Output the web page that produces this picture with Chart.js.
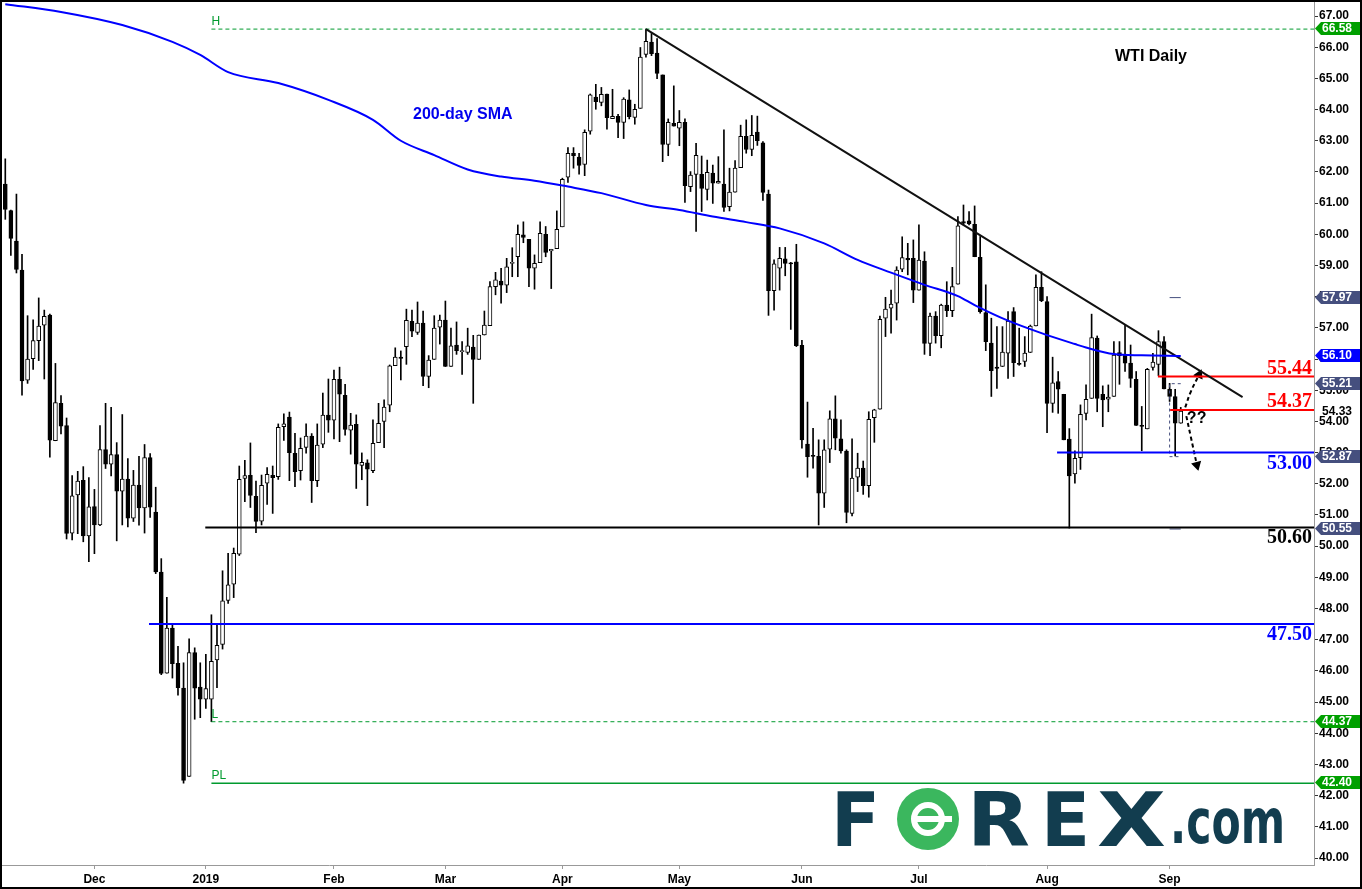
<!DOCTYPE html>
<html>
<head>
<meta charset="utf-8">
<title>WTI Daily</title>
<script src="https://cdn.jsdelivr.net/npm/chart.js@4.4.0/dist/chart.umd.min.js"></script>
<style>
  html, body { margin: 0; padding: 0; background: #fff; }
  canvas { display: block; }
</style>
</head>
<body>
<canvas id="chart" width="1362" height="889"></canvas>
<script>
// WTI daily candles, mid Nov 2018 to 3 Sep 2019
const opens = [
  61.61, 60.76, 59.78, 58.85, 55.32, 56.01, 56.59, 57.09, 57.41, 53.38,
  54.58, 53.87, 50.42, 51.64, 52.11, 50.33, 51.27, 50.68, 53.10, 52.63,
  52.94, 51.76, 52.15, 50.90, 51.96, 51.23, 52.84, 51.09, 49.17, 45.93,
  47.37, 46.24, 45.45, 42.62, 46.59, 45.48, 45.09, 45.09, 46.35, 46.85,
  48.26, 48.78, 49.74, 52.17, 52.27, 51.60, 50.80, 52.02, 52.27, 52.23,
  53.83, 54.14, 52.98, 52.42, 53.17, 53.53, 52.10, 53.27, 54.20, 54.04,
  55.35, 54.84, 53.72, 53.91, 52.59, 52.67, 52.42, 53.32, 54.00, 54.52,
  55.79, 56.06, 56.40, 57.21, 56.85, 57.15, 55.44, 55.99, 57.02, 57.25,
  55.76, 56.45, 56.24, 56.21, 56.38, 55.99, 56.77, 57.07, 58.32, 58.50,
  58.37, 59.07, 59.28, 59.98, 59.84, 58.91, 59.09, 60.00, 59.47, 59.54,
  60.24, 61.83, 62.60, 62.48, 62.24, 63.31, 64.40, 64.23, 64.50, 63.71,
  63.78, 63.59, 64.31, 63.75, 64.04, 65.77, 66.16, 65.81, 65.11, 62.88,
  63.56, 63.40, 63.59, 61.53, 61.92, 61.92, 61.44, 61.96, 61.64, 61.61,
  60.89, 61.35, 62.14, 63.14, 62.72, 63.28, 62.93, 61.29, 58.19, 58.91,
  59.21, 59.07, 59.12, 56.44, 53.27, 52.90, 52.88, 51.70, 53.11, 54.08,
  53.44, 53.05, 51.05, 52.21, 52.50, 51.94, 54.12, 54.39, 57.31, 57.63,
  57.79, 58.88, 59.23, 59.23, 58.21, 59.14, 56.50, 57.38, 56.75, 57.73,
  57.55, 58.40, 60.41, 60.43, 60.32, 59.26, 57.49, 56.51, 55.74, 55.76,
  56.19, 57.52, 55.86, 55.92, 56.21, 57.06, 58.30, 57.84, 54.58, 55.28,
  54.87, 53.43, 52.32, 52.84, 54.26, 54.74, 56.67, 54.87, 54.71, 54.80,
  56.21, 56.13, 55.87, 55.35, 53.85, 53.76, 55.73, 55.83, 56.56, 55.03,
  54.80, 53.94
];
const highs = [
  62.42, 60.78, 61.29, 59.36, 57.39, 57.26, 57.96, 57.57, 57.44, 55.86,
  54.83, 54.11, 52.26, 52.40, 52.55, 52.20, 51.82, 53.87, 54.58, 54.45,
  53.32, 54.22, 52.81, 52.43, 52.88, 53.26, 52.97, 51.89, 49.60, 48.36,
  47.52, 46.79, 46.26, 47.03, 46.74, 46.26, 46.53, 47.80, 47.52, 49.21,
  49.77, 49.94, 52.57, 52.75, 53.31, 52.09, 52.28, 52.52, 52.57, 53.92,
  54.24, 54.30, 53.62, 53.47, 53.92, 53.61, 53.92, 54.91, 55.36, 55.65,
  55.74, 55.19, 54.26, 54.21, 52.99, 52.77, 54.05, 54.58, 54.69, 55.81,
  56.36, 56.26, 57.60, 57.57, 57.83, 57.54, 56.11, 57.39, 57.41, 57.86,
  56.99, 57.19, 56.56, 56.99, 56.76, 56.77, 57.54, 58.48, 58.78, 58.91,
  59.23, 59.57, 60.30, 60.40, 59.84, 59.34, 60.40, 60.25, 59.52, 60.75,
  61.80, 62.78, 62.78, 62.60, 63.35, 64.50, 64.81, 64.71, 64.50, 64.65,
  63.85, 64.38, 64.63, 64.17, 65.99, 66.58, 66.44, 66.28, 65.11, 63.70,
  64.76, 63.97, 63.70, 62.01, 62.92, 62.51, 62.38, 62.22, 62.49, 63.35,
  62.12, 62.36, 63.50, 63.67, 63.81, 63.79, 62.97, 61.42, 59.18, 59.58,
  59.58, 59.10, 59.68, 56.60, 54.62, 53.78, 53.41, 53.41, 54.34, 54.82,
  54.05, 53.09, 53.44, 52.98, 52.73, 54.31, 54.39, 57.38, 57.98, 58.21,
  58.96, 59.92, 59.71, 59.82, 60.30, 59.44, 57.47, 57.52, 57.76, 58.48,
  58.94, 60.57, 60.94, 60.73, 60.91, 59.93, 58.38, 57.31, 57.04, 57.04,
  57.52, 57.65, 56.99, 56.72, 57.09, 58.70, 58.80, 58.00, 56.06, 55.60,
  54.87, 53.77, 53.06, 54.53, 55.17, 57.44, 56.74, 55.14, 55.17, 56.56,
  56.56, 57.09, 56.45, 55.60, 54.48, 55.70, 56.18, 56.91, 56.72, 55.22,
  55.03, 54.45
];
const lows = [
  60.48, 59.32, 58.76, 54.84, 55.22, 55.67, 55.95, 55.36, 52.85, 53.38,
  53.60, 50.23, 50.20, 50.40, 50.14, 49.50, 49.76, 50.66, 52.49, 52.25,
  50.17, 50.68, 50.62, 50.79, 50.67, 50.42, 50.92, 49.12, 45.88, 45.93,
  45.77, 45.22, 42.40, 42.62, 44.45, 44.50, 44.80, 44.37, 45.46, 46.70,
  48.16, 48.35, 49.70, 51.43, 51.24, 50.43, 50.68, 51.34, 51.05, 52.14,
  53.39, 52.10, 51.91, 52.12, 52.98, 51.40, 51.91, 53.16, 53.65, 53.44,
  53.35, 53.56, 52.95, 51.85, 52.13, 51.30, 52.36, 53.32, 53.16, 54.31,
  55.79, 55.33, 55.83, 56.72, 56.79, 55.15, 55.08, 55.99, 56.48, 55.76,
  55.76, 56.15, 55.51, 56.15, 54.58, 55.99, 56.77, 57.07, 58.06, 57.79,
  58.13, 58.64, 58.64, 59.73, 58.32, 58.24, 59.09, 59.28, 58.26, 59.54,
  60.24, 61.66, 62.12, 61.93, 61.88, 63.21, 64.01, 64.12, 63.37, 63.71,
  63.10, 63.07, 63.70, 63.53, 64.04, 65.68, 65.73, 64.99, 62.33, 62.52,
  63.47, 62.84, 61.02, 61.37, 60.09, 60.73, 61.10, 60.99, 61.64, 60.73,
  60.75, 61.35, 62.14, 62.60, 62.52, 62.85, 61.09, 57.40, 57.57, 58.21,
  58.67, 56.95, 56.40, 53.14, 52.21, 52.50, 50.68, 51.24, 52.68, 53.09,
  52.98, 50.75, 50.97, 51.75, 51.66, 51.57, 53.33, 54.39, 56.72, 56.83,
  57.25, 58.80, 58.70, 57.81, 58.21, 56.15, 56.11, 56.51, 56.36, 57.36,
  57.36, 58.40, 60.30, 60.30, 59.28, 57.47, 56.27, 54.80, 55.06, 55.76,
  55.38, 55.44, 55.80, 55.76, 56.21, 57.06, 57.84, 53.64, 54.29, 54.26,
  53.41, 50.58, 52.02, 52.46, 54.05, 54.74, 54.31, 53.83, 54.31, 54.80,
  55.19, 55.60, 55.09, 53.87, 53.06, 53.76, 55.64, 55.47, 55.04, 54.64,
  52.89, 53.94
];
const closes = [
  60.80, 59.87, 58.87, 55.30, 56.00, 56.59, 57.06, 57.37, 53.40, 54.60,
  53.85, 50.41, 51.61, 52.09, 50.33, 51.26, 50.68, 53.10, 52.63, 52.94,
  51.76, 52.15, 50.90, 51.96, 51.23, 52.84, 51.25, 49.17, 45.92, 47.37,
  46.23, 45.46, 42.49, 46.59, 45.45, 45.09, 45.43, 46.31, 46.82, 48.25,
  48.76, 49.77, 52.14, 52.26, 51.63, 50.79, 51.95, 52.30, 52.20, 53.81,
  53.92, 53.00, 52.39, 53.14, 53.53, 52.10, 53.24, 54.20, 54.04, 55.35,
  54.87, 53.74, 53.88, 52.63, 52.69, 52.47, 53.30, 53.94, 54.46, 55.78,
  56.06, 56.02, 57.24, 56.89, 57.15, 55.44, 55.97, 56.99, 57.25, 55.76,
  56.42, 56.27, 56.24, 56.42, 55.99, 56.77, 57.09, 58.32, 58.54, 58.37,
  58.96, 59.07, 60.00, 59.90, 58.91, 59.07, 60.03, 59.42, 59.52, 60.16,
  61.76, 62.60, 62.52, 62.21, 63.27, 64.47, 64.25, 64.49, 63.74, 63.78,
  63.59, 64.34, 63.77, 64.01, 65.68, 66.19, 65.79, 65.16, 62.88, 63.59,
  63.47, 63.59, 61.56, 61.90, 62.53, 61.47, 61.99, 61.64, 61.70, 60.86,
  61.35, 62.12, 63.14, 62.72, 63.17, 63.00, 61.34, 58.19, 59.05, 59.23,
  59.07, 59.05, 56.43, 53.41, 52.87, 52.88, 51.70, 53.09, 54.08, 53.46,
  53.05, 51.08, 52.18, 52.50, 51.94, 54.07, 54.37, 57.27, 57.60, 57.76,
  58.85, 59.25, 59.18, 58.21, 59.17, 56.50, 57.38, 56.75, 57.73, 57.55,
  58.32, 60.27, 60.36, 60.33, 59.28, 57.52, 56.56, 55.63, 55.70, 56.22,
  57.22, 55.88, 55.83, 56.19, 57.06, 58.30, 57.87, 54.58, 55.24, 55.03,
  53.41, 52.25, 52.82, 54.23, 54.71, 56.69, 54.74, 54.69, 54.78, 56.13,
  56.11, 55.87, 55.38, 53.87, 53.84, 55.67, 55.90, 56.56, 55.04, 54.80,
  53.94, 54.33
];

// x axis: bar index where each month starts
const monthLabels = ['Dec', '2019', 'Feb', 'Mar', 'Apr', 'May', 'Jun', 'Jul', 'Aug', 'Sep'];
const monthStarts = [16, 36, 59, 79, 100, 121, 143, 164, 187, 209];
const priceTicks = [40, 41, 42, 43, 44, 45, 46, 47, 48, 49, 50, 51, 52, 53,
  54, 55, 56, 57, 58, 59, 60, 61, 62, 63, 64, 65, 66, 67];

// 200-day SMA, sampled along the blue line
const smaIdx = [0, 10, 21, 30, 35, 40, 49, 58, 66, 71, 77, 83, 89, 95, 101, 107,
  115, 121, 127, 133, 139, 147, 153, 159, 165, 171, 174, 180, 186, 192, 194, 199, 204, 211];
const smaVals = [67.38, 67.13, 66.71, 66.17, 65.75, 65.20, 64.85, 64.31, 63.67, 63.00,
  62.54, 62.08, 61.85, 61.72, 61.53, 61.32, 60.94, 60.78, 60.57, 60.39, 60.19, 59.71,
  59.18, 58.77, 58.38, 58.02, 57.73, 57.23, 56.83, 56.48, 56.37, 56.16, 56.12, 56.10];

// drawn levels
const levelValues = [50.60, 47.50, 53.00, 55.44, 54.37];
const levelStarts = [35.9, 25.8, 188.8, 206.9, 209.1];
const pivotNames = ['H', 'L', 'PL'];
const pivotValues = [66.58, 44.37, 42.40];
const pivotStart = 37;

// falling trend line from the April high
const trendX = [115, 222.1];
const trendY = [66.58, 54.78];

// the two dashed "??" arrows
const upArrowX = [211.8, 212.8, 214.3];
const upArrowY = [54.45, 54.95, 55.50];
const downArrowX = [212.0, 212.8, 213.9];
const downArrowY = [54.17, 53.51, 52.60];

// right axis price tags
const tagValues = [66.58, 57.97, 56.10, 55.21, 52.87, 50.55, 44.37, 42.40];
const lastPrice = closes[closes.length - 1];

const X_MIN = -0.77, X_MAX = 234.92;
const GREEN = '#009a2e';
const SLATE = '#454f7e';
const tagColors = ['#00a000', SLATE, '#0000ff', SLATE, SLATE, SLATE, '#00a000', '#00a000'];
const levelColors = ['#000000', '#0000ff', '#0000ff', '#ff0000', '#ff0000'];
const levelBelow = [true, true, true, false, false];

function pts(xs, ys) {
    return xs.map((x, k) => ({ x: x, y: ys[k] }));
}

function hLine(v, from, color, width, dash) {
    return {
        type: 'line',
        data: [{ x: from, y: v }, { x: X_MAX, y: v }],
        borderColor: color,
        borderWidth: width,
        borderDash: dash || [],
        pointRadius: 0,
        order: 0
    };
}

// text squeezed/stretched to a given width (logo letters)
function fitText(ctx, text, left, right, baseline) {
    const w = ctx.measureText(text).width;
    ctx.save();
    ctx.translate(left, baseline);
    ctx.scale((right - left) / w, 1);
    ctx.fillText(text, 0, 0);
    ctx.restore();
}

function drawLogo(ctx) {
    ctx.save();
    ctx.fillStyle = '#123d4f';
    ctx.textBaseline = 'alphabetic';
    ctx.font = 'bold 74px "DejaVu Sans", sans-serif';
    fitText(ctx, 'F', 831, 880, 846);
    fitText(ctx, 'R', 967, 1030, 846);
    fitText(ctx, 'E', 1041, 1090, 846);
    fitText(ctx, 'X', 1097, 1166, 846);
    ctx.font = 'bold 62px "DejaVu Sans", sans-serif';
    fitText(ctx, '.com', 1170, 1285, 843);
    // the green coin used as the O
    ctx.fillStyle = '#3bb75e';
    ctx.beginPath();
    ctx.arc(928, 819, 31, 0, Math.PI * 2);
    ctx.fill();
    ctx.strokeStyle = '#ffffff';
    ctx.lineWidth = 6;
    ctx.beginPath();
    ctx.arc(928, 819, 14, 0, Math.PI * 2);
    ctx.stroke();
    ctx.fillStyle = '#ffffff';
    ctx.fillRect(912, 816, 40, 6);
    ctx.restore();
}

const overlay = {
    id: 'overlay',
    beforeDatasetsDraw(chart) {
        drawLogo(chart.ctx);
    },
    afterDatasetsDraw(chart) {
        const ctx = chart.ctx;
        const xs = chart.scales.x, ys = chart.scales.y;
        const right = chart.chartArea.right;
        ctx.save();
        // level captions
        ctx.font = 'bold 20px "Liberation Serif", "Times New Roman", serif';
        ctx.textAlign = 'right';
        ctx.textBaseline = 'alphabetic';
        levelValues.forEach((v, k) => {
            const y = ys.getPixelForValue(v);
            ctx.fillStyle = levelColors[k];
            ctx.fillText(v.toFixed(2), right - 2, levelBelow[k] ? y + 16 : y - 3);
        });
        // H / L / PL
        ctx.textAlign = 'left';
        ctx.font = '12px Arial, "Liberation Sans", sans-serif';
        ctx.fillStyle = GREEN;
        pivotValues.forEach((v, k) => {
            ctx.fillText(pivotNames[k], xs.getPixelForValue(pivotStart), ys.getPixelForValue(v) - 4);
        });
        // captions
        ctx.textBaseline = 'middle';
        ctx.font = 'bold 16px Arial, "Liberation Sans", sans-serif';
        ctx.fillStyle = '#0000ee';
        ctx.fillText('200-day SMA', xs.getPixelForValue(73.2), ys.getPixelForValue(63.83));
        ctx.fillStyle = '#000';
        ctx.fillText('WTI Daily', xs.getPixelForValue(199.2), ys.getPixelForValue(65.69));
        ctx.fillText('??', xs.getPixelForValue(212.1), ys.getPixelForValue(54.08));
        ctx.restore();
    },
    afterDraw(chart) {
        const ctx = chart.ctx;
        const ys = chart.scales.y;
        const x0 = chart.chartArea.right + 1;
        const w = chart.width;
        ctx.save();
        ctx.font = 'bold 12px Arial, "Liberation Sans", sans-serif';
        ctx.textBaseline = 'middle';
        ctx.textAlign = 'left';
        tagValues.forEach((v, k) => {
            const y = Math.round(ys.getPixelForValue(v)) - 0.5;
            ctx.fillStyle = tagColors[k];
            ctx.beginPath();
            ctx.moveTo(x0, y);
            ctx.lineTo(x0 + 6, y - 6.5);
            ctx.lineTo(w, y - 6.5);
            ctx.lineTo(w, y + 6.5);
            ctx.lineTo(x0 + 6, y + 6.5);
            ctx.closePath();
            ctx.fill();
            ctx.fillStyle = '#fff';
            ctx.fillText(v.toFixed(2), x0 + 7, y + 0.5);
        });
        ctx.fillStyle = '#000';
        ctx.fillText(lastPrice.toFixed(2), x0 + 7, ys.getPixelForValue(lastPrice) + 1);
        // outer frame
        ctx.strokeStyle = '#000';
        ctx.lineWidth = 2;
        ctx.strokeRect(1, 1, w - 2, chart.height - 2);
        ctx.restore();
    }
};

const datasets = [
    {
        type: 'bar',
        data: opens.map((o, i) => ({ x: i, y: [o, closes[i]] })),
        backgroundColor: ctx => closes[ctx.dataIndex] >= opens[ctx.dataIndex] ? '#ffffff' : '#000000',
        borderColor: '#000000',
        borderWidth: 1,
        borderSkipped: false,
        barThickness: 4,
        minBarLength: 1,
        grouped: false,
        order: 1
    },
    {
        type: 'bar',
        data: lows.map((l, i) => ({ x: i, y: [l, highs[i]] })),
        backgroundColor: '#000000',
        borderWidth: 0,
        barThickness: 1,
        grouped: false,
        order: 2
    },
    {
        type: 'line',
        data: pts(smaIdx, smaVals),
        borderColor: '#0000ff',
        borderWidth: 2,
        pointRadius: 0,
        cubicInterpolationMode: 'monotone',
        order: 0
    },
    {
        type: 'line',
        data: pts(trendX, trendY),
        borderColor: '#111111',
        borderWidth: 2,
        pointRadius: 0,
        order: 0
    },
    hLine(pivotValues[0], pivotStart, GREEN, 1, [4, 3]),
    hLine(pivotValues[1], pivotStart, GREEN, 1, [4, 3]),
    hLine(pivotValues[2], pivotStart, GREEN, 1.5),
    ...levelValues.map((v, k) => hLine(v, levelStarts[k], levelColors[k], 2)),
    {
        type: 'line',
        data: pts(upArrowX, upArrowY),
        borderColor: '#000',
        borderWidth: 2,
        borderDash: [4, 3],
        tension: 0.4,
        pointStyle: 'triangle',
        pointRadius: [0, 0, 4],
        pointRotation: 25,
        pointBackgroundColor: '#000',
        pointBorderColor: '#000',
        order: 0
    },
    {
        type: 'line',
        data: pts(downArrowX, downArrowY),
        borderColor: '#000',
        borderWidth: 2,
        borderDash: [4, 3],
        tension: 0.4,
        pointStyle: 'triangle',
        pointRadius: [0, 0, 4],
        pointRotation: 165,
        pointBackgroundColor: '#000',
        pointBorderColor: '#000',
        order: 0
    },
    // last-bar channel marks next to the tags
    {
        type: 'line',
        data: pts([209, 211], [tagValues[1], tagValues[1]]),
        borderColor: SLATE, borderWidth: 1, pointRadius: 0, order: 0
    },
    {
        type: 'line',
        data: pts([211, 209, 209, 211], [tagValues[3], tagValues[3], tagValues[4], tagValues[4]]),
        borderColor: SLATE, borderWidth: 1, borderDash: [3, 3], pointRadius: 0, order: 0
    },
    {
        type: 'line',
        data: pts([209, 211], [tagValues[5], tagValues[5]]),
        borderColor: SLATE, borderWidth: 1, pointRadius: 0, order: 0
    }
];

Chart.defaults.font.family = 'Arial, "Liberation Sans", sans-serif';
Chart.defaults.color = '#000';

new Chart(document.getElementById('chart'), {
    type: 'bar',
    data: { datasets: datasets },
    options: {
        responsive: false,
        animation: false,
        events: [],
        layout: { autoPadding: false, padding: { top: 2, left: 1, right: 0, bottom: 0 } },
        plugins: {
            legend: { display: false },
            tooltip: { enabled: false }
        },
        scales: {
            x: {
                type: 'linear',
                min: X_MIN,
                max: X_MAX,
                offset: false,
                grid: { offset: false, drawOnChartArea: false, tickLength: 4, tickColor: '#999' },
                border: { color: '#999', width: 1 },
                ticks: {
                    autoSkip: false,
                    maxRotation: 0,
                    padding: 3,
                    font: { size: 12, weight: 'bold' },
                    callback: v => monthLabels[monthStarts.indexOf(v)]
                },
                afterBuildTicks: axis => { axis.ticks = monthStarts.map(v => ({ value: v })); },
                afterFit: axis => { axis.height = 24; axis.paddingLeft = 0; axis.paddingRight = 0; }
            },
            y: {
                position: 'right',
                min: 39.776,
                max: 67.449,
                grid: { drawOnChartArea: false, tickLength: 4, tickColor: '#333' },
                border: { color: '#999', width: 1 },
                ticks: {
                    padding: 1,
                    autoSkip: false,
                    font: { size: 12, weight: 'bold' },
                    callback: v => v.toFixed(2)
                },
                afterBuildTicks: axis => { axis.ticks = priceTicks.map(v => ({ value: v })); },
                afterFit: axis => { axis.width = 48; axis.paddingTop = 0; axis.paddingBottom = 0; }
            }
        }
    },
    plugins: [overlay]
});
</script>
</body>
</html>
